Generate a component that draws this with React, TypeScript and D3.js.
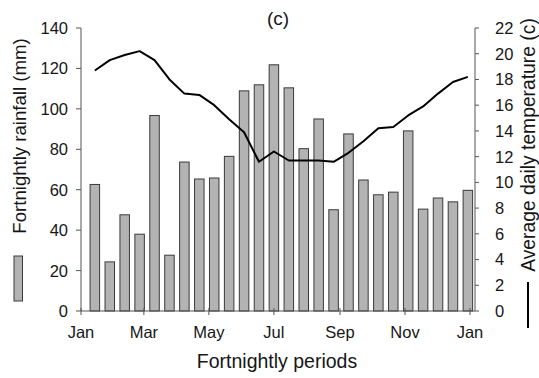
import React from "react";
import * as d3 from "d3";

const rainfall = [62.6, 24.3, 47.6, 38, 96.7, 27.6, 73.7, 65.3, 65.8, 76.5, 108.9, 111.9, 121.8, 110.4, 80.3, 95, 50.1, 87.6, 64.8, 57.5, 58.8, 89.1, 50.4, 55.9, 54, 59.7];
const temperature = [18.7, 19.5, 19.9, 20.2, 19.5, 18.0, 16.9, 16.8, 16.0, 14.9, 13.9, 11.6, 12.4, 11.7, 11.7, 11.7, 11.6, 12.3, 13.2, 14.2, 14.3, 15.2, 15.9, 16.9, 17.8, 18.2];
const rainTicks = [0, 20, 40, 60, 80, 100, 120, 140];
const tempTicks = [0, 2, 4, 6, 8, 10, 12, 14, 16, 18, 20, 22];
const monthLabels = ["Jan", "Mar", "May", "Jul", "Sep", "Nov", "Jan"];

const FONT = "'Liberation Sans', Arial, sans-serif";
const TXT = "#161616";

export default function App() {
  const W = 539, H = 378;
  const left = 81, right = 475, top = 28, bottom = 311;
  const start = new Date(2001, 0, 1);
  const end = new Date(2002, 0, 1);
  const x = d3.scaleTime().domain([start, end]).range([left, 470]);
  const yL = d3.scaleLinear().domain([0, 140]).range([bottom, top]);
  const yR = d3.scaleLinear().domain([0, 22]).range([bottom, top]);
  const barW = 9.5;
  const periodDate = (i: number) => d3.timeDay.offset(start, 14 * (i + 1) - 1);
  const monthTicks = d3.range(7).map((k) => d3.timeMonth.offset(start, k * 2));
  const line = d3
    .line<number>()
    .x((_, i) => x(periodDate(i)))
    .y((d) => yR(d));

  return (
    <svg width={W} height={H} style={{ position: "absolute", left: 0, top: 0, background: "#fff" }} fontFamily={FONT}>
      <rect width={W} height={H} fill="#fff" />
      {rainfall.map((v, i) => (
        <rect
          key={i}
          x={x(periodDate(i)) - barW / 2}
          y={yL(v)}
          width={barW}
          height={bottom - yL(v)}
          fill="#b3b3b3"
          stroke="#3a3a3a"
          strokeWidth={1}
        />
      ))}
      <path d={line(temperature) || ""} fill="none" stroke="#000" strokeWidth={2} strokeLinejoin="round" />
      {/* left axis */}
      <line x1={left} x2={left} y1={top} y2={bottom} stroke="#555" />
      {rainTicks.map((t) => (
        <g key={t}>
          <line x1={left - 5} x2={left} y1={yL(t)} y2={yL(t)} stroke="#555" />
          <text x={68} y={yL(t)} dy="0.36em" textAnchor="end" fontSize={16.5} fill={TXT}>
            {t}
          </text>
        </g>
      ))}
      {/* right axis */}
      <line x1={right} x2={right} y1={top} y2={bottom} stroke="#555" />
      {tempTicks.map((t) => (
        <g key={t}>
          <line x1={right} x2={right + 4} y1={yR(t)} y2={yR(t)} stroke="#555" />
          <text x={495} y={yR(t)} dy="0.36em" textAnchor="start" fontSize={16.5} fill={TXT}>
            {t}
          </text>
        </g>
      ))}
      {/* bottom axis */}
      <line x1={left} x2={right} y1={bottom} y2={bottom} stroke="#555" />
      {monthTicks.map((d, k) => (
        <g key={k}>
          <line x1={x(d)} x2={x(d)} y1={bottom - 3} y2={bottom + 4} stroke="#555" />
          <text x={x(d)} y={338} textAnchor="middle" fontSize={16.5} fill={TXT}>
            {monthLabels[k]}
          </text>
        </g>
      ))}
      <text x={277} y={368} textAnchor="middle" fontSize={19.5} fill={TXT}>
        Fortnightly periods
      </text>
      <text x={278} y={24.5} textAnchor="middle" fontSize={19} fill={TXT}>
        (c)
      </text>
      {/* left title + legend */}
      <text transform="translate(26,136) rotate(-90)" textAnchor="middle" fontSize={18.6} fill={TXT}>
        Fortnightly rainfall (mm)
      </text>
      <rect x={14} y={256} width={8.5} height={45} fill="#b3b3b3" stroke="#3a3a3a" />
      {/* right title + legend */}
      <text transform="translate(535,145) rotate(-90)" textAnchor="middle" fontSize={19.3} fill={TXT}>
        Average daily temperature (c)
      </text>
      <line x1={528} x2={528} y1={282} y2={328} stroke="#000" strokeWidth={2} />
    </svg>
  );
}
